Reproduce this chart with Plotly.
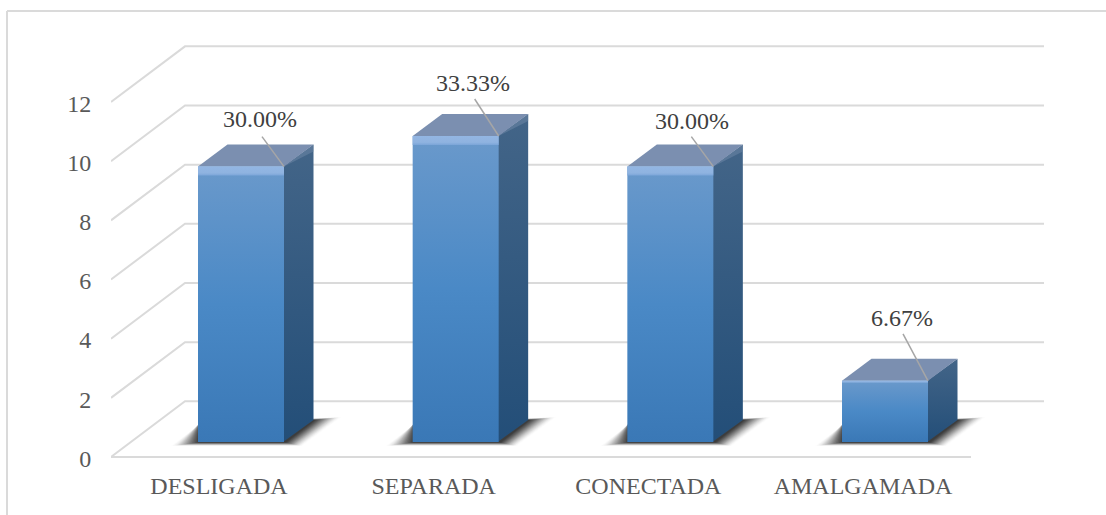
import plotly.graph_objects as go

# --- data ---
categories = ["DESLIGADA", "SEPARADA", "CONECTADA", "AMALGAMADA"]
values = [9, 10, 9, 2]
percent_labels = ["30.00%", "33.33%", "30.00%", "6.67%"]
y_ticks = [0, 2, 4, 6, 8, 10, 12]

# --- geometry (pixels of the page, converted to axis units below) ---
W, H = 1106, 515
LEFT, ZERO_PX, BOTTOM = 111, 457, 462
PX_X = 214.67           # one category
PX_Y = 29.58            # one value unit on the axis
X0 = 241                # centre of first bar
RX = (LEFT - X0) / PX_X, (W - X0) / PX_X
RY = (ZERO_PX - BOTTOM) / PX_Y, ZERO_PX / PX_Y

def ux(px): return px / PX_X
def uy(px): return px / PX_Y

HALF = ux(43)
DX_BAR, DY_BAR = ux(29.5), uy(22)
DX_WALL, DY_WALL = ux(74), uy(55.7)
BASE = uy(15)
SCALE = 30.6 / PX_Y
WALL_RIGHT = (1044 - X0) / PX_X
FLOOR_RIGHT = (971 - X0) / PX_X
WALL_LEFT = (LEFT - X0) / PX_X

GRID = "#dadada"
fig = go.Figure()

def poly(xs, ys, color=None, grad=None, kind="vertical", line=None):
    kw = dict(x=xs + xs[:1], y=ys + ys[:1], mode="lines", fill="toself",
              line=dict(width=0) if line is None else line,
              hoverinfo="skip", showlegend=False)
    if grad:
        kw["fillgradient"] = dict(type=kind, colorscale=grad)
        kw["fillcolor"] = None
    else:
        kw["fillcolor"] = color
    fig.add_trace(go.Scatter(**kw))

# walls / floor gridlines
for v in y_ticks:
    fig.add_trace(go.Scatter(
        x=[WALL_LEFT, WALL_LEFT + DX_WALL, WALL_RIGHT],
        y=[v, v + DY_WALL, v + DY_WALL],
        mode="lines", line=dict(color=GRID, width=2),
        hoverinfo="skip", showlegend=False))
fig.add_trace(go.Scatter(
    x=[WALL_LEFT, FLOOR_RIGHT], y=[0, 0], mode="lines",
    line=dict(color=GRID, width=2), hoverinfo="skip", showlegend=False))

# bars
SHADOW_STEPS = 18
for i, v in enumerate(values):
    l, r = i - HALF, i + HALF
    b = BASE
    t = BASE + v * SCALE
    # soft shadow, built from nested translucent polygons
    for s in range(SHADOW_STEPS):
        g = 1 - s / (SHADOW_STEPS - 1)
        alpha = 0.012 + 0.12 * (1 - g)
        poly([l - ux(27) * g, r + ux(16) * g + ux(2), r + DX_BAR + ux(2) + ux(26) * g, l + ux(2)],
             [b - uy(3.5) * g - uy(.5), b - uy(3.5) * g - uy(.5),
              b + DY_BAR + uy(3) * g, b + uy(18) + uy(4) * (1 - g)],
             color=f"rgba(0,0,0,{alpha:.3f})")
    # side face
    poly([r - ux(1), r + DX_BAR, r + DX_BAR, r - ux(1)], [b, b + DY_BAR, t + DY_BAR, t],
         grad=[[0, "#234e78"], [1, "#436588"]])
    # bevel at the top of the side face
    if v > 3:
        poly([r, r + DX_BAR, r + DX_BAR], [t, t + DY_BAR, t + DY_BAR - uy(7)],
             color="rgba(110,135,165,0.55)")
    # top face
    poly([l, r, r + DX_BAR, l + DX_BAR], [t, t, t + DY_BAR, t + DY_BAR], color="#7b8fb0")
    # front face
    poly([l, r, r, l], [b, b, t, t],
         grad=[[0, "#3a78b6"], [0.5, "#4a89c6"], [1, "#6a99cb"]])
    # lighter band at the top of the front face
    band = uy(9) if v > 3 else uy(2)
    poly([l, r, r, l], [t - band, t - band, t, t],
         grad=[[0, "#7ba5d8"], [0.3, "#8fb3e0"], [1, "#93b6e3"]])

# leader lines and data labels
LABEL_PX = [(19, 48), (17, 53), (22, 46), (17, 63)]   # label centre relative to bar centre / top
LEADER_PX = [(22, 30), (24, 37), (22, 30), (25, 47)]  # leader start relative to bar's top-right
for i, v in enumerate(values):
    r = i + HALF
    t = BASE + v * SCALE
    sx, sy = LEADER_PX[i]
    fig.add_trace(go.Scatter(
        x=[r - ux(sx), r], y=[t + uy(sy), t], mode="lines",
        line=dict(color="#a6a6a6", width=1.5), hoverinfo="skip", showlegend=False))
    lx, ly = LABEL_PX[i]
    fig.add_annotation(x=i + ux(lx), y=t + uy(ly), text=percent_labels[i], showarrow=False,
                       xanchor="center", yanchor="middle",
                       font=dict(family="Liberation Serif", size=24, color="#404040"))

# chart frame
fig.add_shape(type="line", xref="paper", yref="paper",
              x0=(7 - LEFT) / (W - LEFT), x1=(7 - LEFT) / (W - LEFT),
              y0=(BOTTOM - H) / BOTTOM, y1=(BOTTOM - 11) / BOTTOM,
              line=dict(color=GRID, width=2))
fig.add_shape(type="line", xref="paper", yref="paper",
              x0=(7 - LEFT) / (W - LEFT), x1=1,
              y0=(BOTTOM - 11) / BOTTOM, y1=(BOTTOM - 11) / BOTTOM,
              line=dict(color=GRID, width=2))

fig.update_layout(
    width=W, height=H, autosize=False,
    margin=dict(l=LEFT, r=0, t=0, b=H - BOTTOM, pad=0),
    paper_bgcolor="white", plot_bgcolor="white", showlegend=False,
    font=dict(family="Liberation Serif", size=24, color="#595959"),
    xaxis=dict(range=list(RX), showgrid=False, zeroline=False, showline=False,
               tickmode="array", tickvals=[i - ux(22) for i in range(len(categories))],
               ticktext=categories, ticks="outside", ticklen=2, tickcolor="rgba(0,0,0,0)",
               tickfont=dict(family="Liberation Serif", size=24, color="#595959")),
    yaxis=dict(range=list(RY), showgrid=False, zeroline=False, showline=False,
               tickmode="array", tickvals=[v - uy(1.3) for v in y_ticks], ticktext=[str(v) for v in y_ticks],
               ticks="outside", ticklen=14, tickcolor="rgba(0,0,0,0)",
               tickfont=dict(family="Liberation Serif", size=24, color="#595959")),
)
fig.write_html("out.html", config={"displayModeBar": False},
               post_script="document.body.style.margin='0';document.body.style.overflow='hidden';")
